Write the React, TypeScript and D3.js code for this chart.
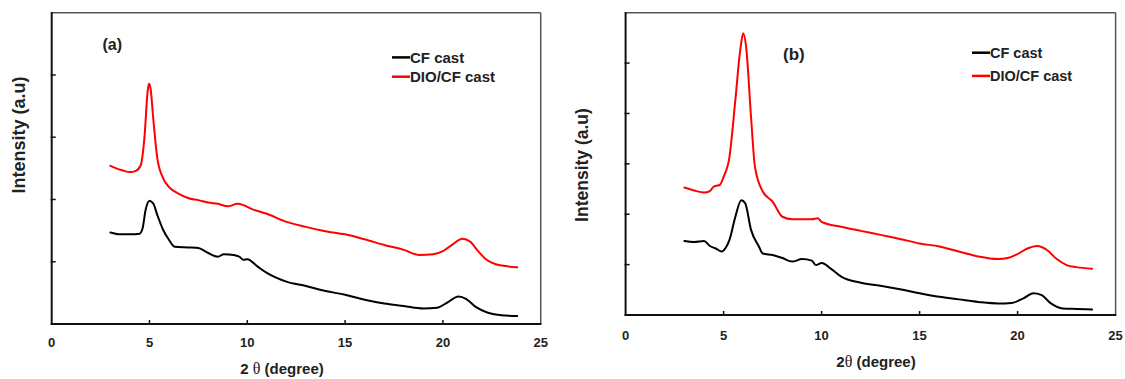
import React from "react";
import * as d3 from "d3";

// ---------- data ----------
const X_TICKS = [0, 5, 10, 15, 20, 25];
const X_TICK_LABELS = ["0", "5", "10", "15", "20", "25"];
const SERIES_NAMES = ["CF cast", "DIO/CF cast"];
const SERIES_COLORS = ["#000000", "#ff0000"];

// panel (a) y axis: 0..5 (unlabelled ticks 1..4)
const A_Y_TICKS = [1, 2, 3, 4];
const A_CF: [number, number][] = [
  [3.0, 1.47], [3.5, 1.44], [4.0, 1.44], [4.5, 1.45], [4.65, 1.54], [4.8, 1.83],
  [5.0, 1.98], [5.2, 1.93], [5.4, 1.75], [5.7, 1.51], [6.0, 1.35], [6.3, 1.24],
  [7.0, 1.23], [7.5, 1.22], [8.0, 1.14], [8.5, 1.08], [8.8, 1.12], [9.3, 1.11],
  [9.6, 1.08], [9.8, 1.03], [10.0, 1.04], [10.5, 0.93], [11.0, 0.82], [12.0, 0.68],
  [13.0, 0.61], [14.0, 0.53], [15.0, 0.47], [16.0, 0.39], [17.0, 0.33], [18.0, 0.29],
  [19.0, 0.25], [19.7, 0.26], [20.2, 0.34], [20.8, 0.44], [21.2, 0.40], [21.7, 0.27],
  [22.3, 0.18], [23.0, 0.14], [23.8, 0.13],
];
const A_DIO: [number, number][] = [
  [3.0, 2.54], [3.3, 2.50], [3.6, 2.47], [4.0, 2.44], [4.3, 2.46], [4.55, 2.55],
  [4.75, 3.03], [4.9, 3.72], [4.97, 3.86], [5.05, 3.79], [5.2, 3.27], [5.4, 2.66],
  [5.7, 2.34], [6.0, 2.2], [6.5, 2.09], [7.0, 2.02], [7.5, 1.99], [8.0, 1.95],
  [8.5, 1.93], [9.0, 1.89], [9.5, 1.93], [9.8, 1.91], [10.2, 1.85], [11.0, 1.77],
  [12.0, 1.64], [13.0, 1.56], [14.0, 1.49], [15.0, 1.44], [16.0, 1.36], [17.0, 1.27],
  [18.0, 1.19], [18.8, 1.11], [19.5, 1.12], [20.0, 1.17], [20.5, 1.28], [21.0, 1.37],
  [21.4, 1.32], [21.8, 1.17], [22.2, 1.04], [22.7, 0.96], [23.2, 0.93], [23.8, 0.91],
];

// panel (b) y axis: 0..6 (unlabelled ticks 1..5)
const B_Y_TICKS = [1, 2, 3, 4, 5];
const B_CF: [number, number][] = [
  [3.0, 1.47], [3.5, 1.45], [4.0, 1.47], [4.3, 1.37], [4.6, 1.32], [4.9, 1.26],
  [5.1, 1.33], [5.3, 1.49], [5.6, 1.95], [5.9, 2.28], [6.1, 2.22], [6.4, 1.69],
  [6.8, 1.36], [7.0, 1.22], [7.5, 1.19], [8.0, 1.13], [8.5, 1.06], [9.0, 1.11],
  [9.5, 1.08], [9.7, 0.99], [10.0, 1.03], [10.5, 0.91], [11.0, 0.76], [12.0, 0.64],
  [13.0, 0.58], [14.0, 0.51], [15.0, 0.43], [16.0, 0.36], [17.0, 0.31], [18.0, 0.26],
  [19.0, 0.23], [19.7, 0.24], [20.3, 0.33], [20.8, 0.43], [21.2, 0.40], [21.7, 0.23],
  [22.3, 0.13], [23.0, 0.12], [23.8, 0.11],
];
const B_DIO: [number, number][] = [
  [3.0, 2.53], [3.5, 2.47], [4.0, 2.43], [4.3, 2.46], [4.5, 2.55], [4.8, 2.58],
  [5.0, 2.74], [5.3, 3.14], [5.6, 4.27], [5.85, 5.26], [6.0, 5.59], [6.15, 5.32],
  [6.4, 3.93], [6.6, 2.94], [7.0, 2.45], [7.5, 2.25], [8.0, 1.95], [8.5, 1.9],
  [9.0, 1.9], [9.5, 1.9], [9.8, 1.92], [10.0, 1.85], [11.0, 1.75], [12.0, 1.67],
  [13.0, 1.59], [14.0, 1.51], [15.0, 1.42], [16.0, 1.36], [17.0, 1.26], [18.0, 1.16],
  [19.0, 1.11], [19.5, 1.13], [20.0, 1.21], [20.5, 1.32], [21.0, 1.37], [21.5, 1.29],
  [22.0, 1.11], [22.5, 0.99], [23.0, 0.95], [23.8, 0.92],
];

const FONT = "'Liberation Sans', Arial, Helvetica, sans-serif";

type PanelProps = {
  left: number; right: number; top: number; bottom: number;
  yMax: number; yTicks: number[];
  series: [number, number][][];
  tag: string; tagX: number; tagY: number; tagSize: number;
  legX: number; legY: number[]; legSize: number;
  yTitleX: number; yTitleY: number; yTitleSize: number;
  tickLabelY: number; xTitleX: number; xTitleY: number; thetaSpace: boolean;
};

function Panel(p: PanelProps) {
  const x = d3.scaleLinear().domain([0, 25]).range([p.left, p.right]);
  const y = d3.scaleLinear().domain([0, p.yMax]).range([p.bottom, p.top]);
  const line = d3
    .line<[number, number]>()
    .x((d) => x(d[0]))
    .y((d) => y(d[1]))
    .curve(d3.curveMonotoneX);
  return (
    <g>
      {/* frame */}
      <line x1={p.left} x2={p.right} y1={p.top} y2={p.top} stroke="#555" strokeWidth={1.5} />
      <line x1={p.right} x2={p.right} y1={p.top} y2={p.bottom} stroke="#555" strokeWidth={1.5} />
      <line x1={p.left} x2={p.left} y1={p.top - 0.75} y2={p.bottom + 1} stroke="#111" strokeWidth={2} />
      <line x1={p.left - 1} x2={p.right + 0.75} y1={p.bottom} y2={p.bottom} stroke="#111" strokeWidth={2} />
      {/* ticks */}
      {X_TICKS.slice(1, -1).map((t) => (
        <line key={"xt" + t} x1={x(t)} x2={x(t)} y1={p.bottom} y2={p.bottom - 4} stroke="#111" strokeWidth={1.5} />
      ))}
      {p.yTicks.map((t) => (
        <line key={"yt" + t} x1={p.left - 1} x2={p.left + 4} y1={y(t)} y2={y(t)} stroke="#111" strokeWidth={1.5} />
      ))}
      {/* tick labels */}
      {X_TICKS.map((t, i) => (
        <text key={"xl" + t} x={x(t)} y={p.tickLabelY} textAnchor="middle" fontFamily={FONT}
          fontWeight="bold" fontSize={13} fill="#222">
          {X_TICK_LABELS[i]}
        </text>
      ))}
      {/* curves */}
      {p.series.map((s, i) => (
        <path key={"s" + i} d={line(s) || ""} fill="none" stroke={SERIES_COLORS[i]} strokeWidth={2}
          strokeLinejoin="round" strokeLinecap="round" />
      ))}
      {/* tag */}
      <text x={p.tagX} y={p.tagY} fontFamily={FONT} fontWeight="bold" fontSize={p.tagSize} fill="#222">
        {p.tag}
      </text>
      {/* legend */}
      {SERIES_NAMES.map((n, i) => (
        <g key={"lg" + i}>
          <line x1={p.legX - 18} x2={p.legX} y1={p.legY[i] - 5.3} y2={p.legY[i] - 5.3}
            stroke={SERIES_COLORS[i]} strokeWidth={2.5} />
          <text x={p.legX} y={p.legY[i]} fontFamily={FONT} fontWeight="bold" fontSize={p.legSize} fill="#222">
            {n}
          </text>
        </g>
      ))}
      {/* y title */}
      <text transform={`translate(${p.yTitleX},${p.yTitleY}) rotate(-90)`} textAnchor="middle"
        fontFamily={FONT} fontWeight="bold" fontSize={p.yTitleSize} fill="#222">
        Intensity (a.u)
      </text>
      {/* x title */}
      <text x={p.xTitleX} y={p.xTitleY} textAnchor="middle" fontFamily={FONT} fontWeight="bold"
        fontSize={15} fill="#222">
        2{p.thetaSpace ? " " : ""}
        <tspan fontWeight="normal" fontFamily="'Liberation Serif', 'Times New Roman', serif" fontSize={16}>θ</tspan>
        {" (degree)"}
      </text>
    </g>
  );
}

export default function App() {
  return (
    <svg width={1125} height={379} style={{ position: "absolute", left: 0, top: 0, background: "#fff" }}>
      <rect width={1125} height={379} fill="#fff" />
      <Panel left={51.7} right={540.7} top={12.7} bottom={324} yMax={5} yTicks={A_Y_TICKS}
        series={[A_CF, A_DIO]} tag="(a)" tagX={102.5} tagY={50} tagSize={16}
        legX={410} legY={[62.7, 82]} legSize={15}
        yTitleX={25} yTitleY={135} yTitleSize={18}
        tickLabelY={347} xTitleX={282} xTitleY={374} thetaSpace={true} />
      <Panel left={625.6} right={1115.6} top={12.7} bottom={315} yMax={6} yTicks={B_Y_TICKS}
        series={[B_CF, B_DIO]} tag="(b)" tagX={783} tagY={60} tagSize={17}
        legX={990} legY={[58, 81.2]} legSize={14.5}
        yTitleX={588} yTitleY={165} yTitleSize={17.5}
        tickLabelY={340} xTitleX={876} xTitleY={366.5} thetaSpace={false} />
    </svg>
  );
}
